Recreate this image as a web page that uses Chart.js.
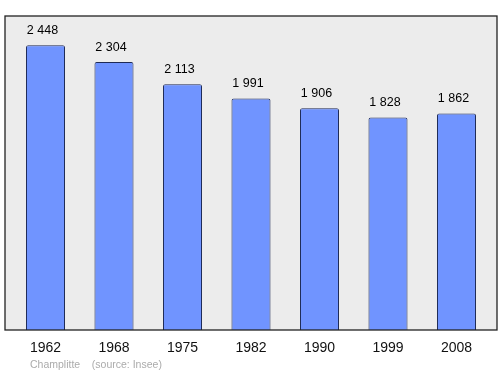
<!DOCTYPE html>
<html><head><meta charset="utf-8">
<script src="https://cdn.jsdelivr.net/npm/chart.js@4"></script>
<style>html,body{margin:0;padding:0;background:#fff}#w{width:500px;height:374px}</style>
</head><body><div id="w"><canvas id="c" width="500" height="374"></canvas></div>
<script>
const years = ["1962","1968","1975","1982","1990","1999","2008"];
const population = [2448, 2304, 2113, 1991, 1906, 1828, 1862];
const valueLabels = ["2 448","2 304","2 113","1 991","1 906","1 828","1 862"];
const sourceText = "Champlitte    (source: Insee)";

const framePlugin = {
  id: 'frame',
  beforeDatasetsDraw(chart) {
    const a = chart.chartArea, ctx = chart.ctx;
    const ext = 6.25;
    ctx.save();
    ctx.fillStyle = '#ececec';
    ctx.fillRect(a.left - ext, a.top, a.right - a.left + 2*ext, a.bottom - a.top);
    ctx.restore();
  },
  afterDatasetsDraw(chart) {
    const a = chart.chartArea, ctx = chart.ctx;
    const ext = 6.25;
    ctx.save();
    ctx.strokeStyle = '#222';
    ctx.lineWidth = 1.3;
    ctx.strokeRect(a.left - ext, a.top, a.right - a.left + 2*ext, a.bottom - a.top);
    ctx.fillStyle = '#000';
    ctx.font = '12.5px "Liberation Sans", Arial, sans-serif';
    ctx.textAlign = 'center';
    ctx.textBaseline = 'middle';
    chart.getDatasetMeta(0).data.forEach((bar, i) => {
      ctx.fillText(valueLabels[i], bar.x - 3, bar.y - 15);
    });
    ctx.fillStyle = '#ababab';
    ctx.font = '10.5px "Liberation Sans", Arial, sans-serif';
    ctx.textAlign = 'left';
    ctx.fillText(sourceText, 30, 365);
    ctx.restore();
  }
};

new Chart(document.getElementById('c'), {
  type: 'bar',
  data: { labels: years, datasets: [{
    data: population,
    backgroundColor: '#7094ff',
    borderColor: '#1e2a55',
    borderWidth: 1,
    borderRadius: 2,
    borderSkipped: 'bottom',
    barPercentage: 0.57,
    categoryPercentage: 1
  }]},
  options: {
    responsive: false,
    animation: false,
    devicePixelRatio: 1,
    layout: { padding: { top: 16, left: 11.25, right: 9.25, bottom: 0 } },
    plugins: { legend: { display: false }, tooltip: { enabled: false } },
    scales: {
      x: {
        grid: { display: false, drawTicks: false },
        border: { display: false },
        ticks: { color: '#111', font: { size: 14, family: '"Liberation Sans", Arial, sans-serif' }, padding: 10 },
        afterFit(s) { s.height = 44; }
      },
      y: { display: false, min: 0, max: 2700 }
    }
  },
  plugins: [framePlugin]
});
</script></body></html>
